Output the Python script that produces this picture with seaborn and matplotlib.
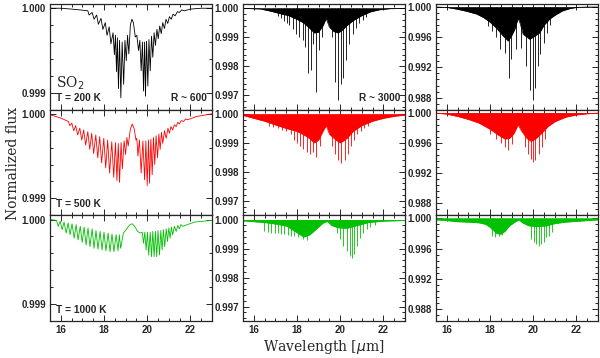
import matplotlib.pyplot as plt
import numpy as np
import seaborn as sns
from matplotlib.ticker import MultipleLocator, FormatStrFormatter

# ---- R ~ 600 column: sawtooth vertices (peak, dip, peak, dip ...)
wl_200k_r600 = [15.5, 16.0, 16.5, 16.9, 17.25, 17.31, 17.45, 17.54, 17.66, 17.74, 17.86, 17.95,
                18.06, 18.14, 18.24, 18.32, 18.42, 18.48, 18.53, 18.58, 18.62, 18.67, 18.72, 18.78,
                18.84, 18.91, 18.97, 19.03, 19.09, 19.15, 19.22, 19.29, 19.36, 19.45, 19.52, 19.60,
                19.66, 19.72, 19.78, 19.83, 19.88, 19.92, 19.97, 20.03, 20.08, 20.14, 20.20, 20.26,
                20.32, 20.38, 20.45, 20.51, 20.58, 20.65, 20.72, 20.80, 20.87, 20.95, 21.03, 21.11,
                21.20, 21.29, 21.40, 21.49, 21.60, 21.72, 22.0, 22.5, 23.0]
flux_200k_r600 = [1.00000, 1.00000, 0.99999, 0.99998, 0.99997, 0.99992, 0.99995, 0.99987, 0.99992,
                  0.99981, 0.99988, 0.99975, 0.99983, 0.99968, 0.99978, 0.99958, 0.99971, 0.99945,
                  0.99968, 0.99925, 0.99965, 0.99905, 0.99962, 0.99894, 0.99960, 0.99910, 0.99962,
                  0.99938, 0.99968, 0.99946, 0.99980, 0.99987, 0.99983, 0.99966, 0.99968, 0.99950,
                  0.99962, 0.99926, 0.99960, 0.99902, 0.99960, 0.99896, 0.99961, 0.99908, 0.99963,
                  0.99926, 0.99967, 0.99942, 0.99971, 0.99956, 0.99975, 0.99964, 0.99979, 0.99970,
                  0.99983, 0.99976, 0.99987, 0.99982, 0.99990, 0.99987, 0.99993, 0.99991, 0.99996,
                  0.99995, 0.99998, 0.99997, 0.99999, 1.00000, 1.00000]

wl_500k_r600 = [15.5, 16.0, 16.35, 16.42, 16.51, 16.60, 16.69, 16.78, 16.88, 16.97, 17.06, 17.15,
                17.25, 17.34, 17.43, 17.52, 17.62, 17.71, 17.80, 17.89, 17.99, 18.08, 18.17, 18.26,
                18.36, 18.45, 18.53, 18.60, 18.66, 18.72, 18.79, 18.85, 18.93, 19.00, 19.06, 19.12,
                19.22, 19.31, 19.40, 19.48, 19.52, 19.57, 19.64, 19.72, 19.80, 19.88, 19.94, 20.00,
                20.06, 20.11, 20.17, 20.23, 20.29, 20.35, 20.41, 20.48, 20.54, 20.60, 20.66, 20.72,
                20.80, 20.88, 20.96, 21.03, 21.10, 21.18, 21.26, 21.34, 21.42, 21.49, 21.58, 21.68,
                21.78, 21.88, 22.3, 23.0]
flux_500k_r600 = [0.99999, 0.99995, 0.99991, 0.99986, 0.99989, 0.99980, 0.99986, 0.99975, 0.99983,
                  0.99969, 0.99981, 0.99963, 0.99979, 0.99958, 0.99977, 0.99953, 0.99975, 0.99948,
                  0.99973, 0.99942, 0.99971, 0.99936, 0.99969, 0.99930, 0.99967, 0.99925, 0.99966,
                  0.99921, 0.99965, 0.99919, 0.99966, 0.99935, 0.99968, 0.99952, 0.99972, 0.99962,
                  0.99982, 0.99988, 0.99982, 0.99969, 0.99971, 0.99950, 0.99969, 0.99930, 0.99968,
                  0.99922, 0.99968, 0.99915, 0.99969, 0.99918, 0.99970, 0.99928, 0.99972, 0.99940,
                  0.99974, 0.99948, 0.99976, 0.99958, 0.99978, 0.99965, 0.99980, 0.99971, 0.99983,
                  0.99977, 0.99985, 0.99981, 0.99987, 0.99985, 0.99990, 0.99988, 0.99992, 0.99991,
                  0.99994, 0.99993, 0.99997, 1.00000]

wl_1000k_r600 = [15.5, 15.80, 15.88, 15.97, 16.06, 16.15, 16.25, 16.34, 16.43, 16.52, 16.62, 16.71,
                 16.80, 16.90, 16.99, 17.08, 17.17, 17.26, 17.35, 17.45, 17.54, 17.63, 17.72, 17.82,
                 17.91, 18.00, 18.09, 18.19, 18.28, 18.37, 18.46, 18.56, 18.65, 18.71, 18.77, 18.90,
                 19.05, 19.20, 19.31, 19.42, 19.55, 19.68, 19.77, 19.83, 19.89, 19.95, 20.01, 20.07,
                 20.14, 20.20, 20.26, 20.32, 20.38, 20.44, 20.50, 20.57, 20.63, 20.69, 20.75, 20.81,
                 20.88, 20.94, 21.00, 21.06, 21.12, 21.18, 21.26, 21.34, 21.42, 21.49, 21.56, 21.64,
                 22.2, 23.0]
flux_1000k_r600 = [1.00000, 0.99999, 0.99992, 0.99998, 0.99988, 0.99997, 0.99984, 0.99996, 0.99982,
                   0.99995, 0.99978, 0.99994, 0.99976, 0.99992, 0.99973, 0.99991, 0.99970, 0.99990,
                   0.99968, 0.99989, 0.99966, 0.99987, 0.99965, 0.99986, 0.99964, 0.99985, 0.99963,
                   0.99984, 0.99962, 0.99983, 0.99962, 0.99982, 0.99963, 0.99982, 0.99966, 0.99984,
                   0.99989, 0.99994, 0.99995, 0.99992, 0.99986, 0.99984, 0.99985, 0.99972, 0.99985,
                   0.99964, 0.99985, 0.99958, 0.99985, 0.99956, 0.99986, 0.99956, 0.99986, 0.99956,
                   0.99987, 0.99958, 0.99987, 0.99964, 0.99988, 0.99968, 0.99989, 0.99974, 0.99990,
                   0.99978, 0.99991, 0.99982, 0.99992, 0.99986, 0.99993, 0.99989, 0.99994, 0.99992,
                   0.99997, 0.99999]

# ---- R ~ 3000 / R ~ 30000: lower edge of the dense line forest, plus the deep single lines
band_wl_200k_r3000 = [15.5, 16.3, 16.8, 17.2, 17.6, 18.0, 18.3, 18.6, 18.8, 19.0, 19.2, 19.35, 19.5,
                      19.7, 19.9, 20.1, 20.3, 20.6, 21.0, 21.4, 21.8, 22.3, 23.0]
band_flux_200k_r3000 = [1.0, 0.99998, 0.99990, 0.99982, 0.99975, 0.99962, 0.99950, 0.99930, 0.99915,
                        0.99918, 0.99940, 0.99965, 0.99935, 0.99920, 0.99915, 0.99925, 0.99940,
                        0.99958, 0.99975, 0.99988, 0.99995, 0.99999, 1.0]
line_wl_200k_r3000 = [17.10, 17.25, 17.40, 17.52, 17.64, 17.83, 17.95, 18.11, 18.26, 18.37, 18.49,
                      18.63, 18.75, 18.88, 19.03, 19.15, 19.61, 19.76, 19.90, 20.02, 20.14, 20.27,
                      20.42, 20.58, 20.73, 20.89, 21.05, 21.20]
line_flux_200k_r3000 = [0.99975, 0.99965, 0.99955, 0.99948, 0.99941, 0.99930, 0.99913, 0.99901,
                        0.99890, 0.99867, 0.99775, 0.99786, 0.99878, 0.99711, 0.99855, 0.99900,
                        0.99900, 0.99745, 0.99683, 0.99740, 0.99760, 0.99821, 0.99878, 0.99910,
                        0.99931, 0.99948, 0.99960, 0.99970]

band_wl_500k_r3000 = [15.5, 16.0, 16.5, 17.0, 17.5, 18.0, 18.5, 18.8, 19.0, 19.2, 19.35, 19.5, 19.8,
                      20.0, 20.3, 20.6, 21.0, 21.5, 22.0, 22.5, 23.0]
band_flux_500k_r3000 = [0.99995, 0.99985, 0.99975, 0.99962, 0.99950, 0.99940, 0.99920, 0.99900,
                        0.99910, 0.99940, 0.99960, 0.99930, 0.99910, 0.99900, 0.99915, 0.99940,
                        0.99960, 0.99975, 0.99985, 0.99992, 0.99996]
line_wl_500k_r3000 = [16.7, 16.9, 17.1, 17.3, 17.5, 17.7, 17.85, 18.0, 18.15, 18.3, 18.45, 18.6,
                      18.75, 18.9, 19.05, 19.6, 19.75, 19.9, 20.05, 20.2, 20.35, 20.5, 20.65, 20.8,
                      20.95, 21.1, 21.3]
line_flux_500k_r3000 = [0.9996, 0.99955, 0.9995, 0.99945, 0.9994, 0.9993, 0.9991, 0.9990, 0.9989,
                        0.9988, 0.9987, 0.9986, 0.9987, 0.9985, 0.9989, 0.9989, 0.9986, 0.9984,
                        0.9983, 0.9984, 0.9986, 0.9989, 0.9991, 0.9993, 0.9994, 0.9995, 0.9996]

band_wl_1000k_r3000 = [15.5, 16.0, 16.5, 17.0, 17.5, 18.0, 18.3, 18.6, 18.9, 19.2, 19.4, 19.6, 19.9,
                       20.3, 20.8, 21.3, 22.0, 23.0]
band_flux_1000k_r3000 = [0.99996, 0.99993, 0.99990, 0.99985, 0.99978, 0.99955, 0.99940, 0.99948,
                         0.99968, 0.99988, 0.99994, 0.99980, 0.99972, 0.99970, 0.99980, 0.99990,
                         0.99995, 0.99997]
line_wl_1000k_r3000 = [16.49, 16.65, 16.80, 16.96, 17.11, 17.26, 17.42, 17.57, 17.73, 17.88, 18.03,
                       18.26, 18.45, 19.84, 19.99, 20.14, 20.30, 20.45, 20.53, 20.64, 20.76, 20.92,
                       21.07, 21.23, 21.40, 21.60]
line_flux_1000k_r3000 = [0.99960, 0.99958, 0.99955, 0.99954, 0.99954, 0.99950, 0.99950, 0.99947,
                         0.99943, 0.99943, 0.99940, 0.99933, 0.99930, 0.99955, 0.99932, 0.99910,
                         0.99893, 0.99876, 0.99868, 0.99880, 0.99910, 0.99937, 0.99954, 0.99966,
                         0.99975, 0.99980]

band_wl_200k_r30000 = [15.5, 16.0, 16.45, 16.9, 17.38, 17.7, 18.0, 18.3, 18.6, 18.84, 19.0, 19.15,
                       19.3, 19.4, 19.53, 19.84, 20.1, 20.3, 20.5, 20.76, 21.0, 21.36, 21.7, 22.0,
                       22.5, 23.0]
band_flux_200k_r30000 = [1.0, 0.99995, 0.99973, 0.99945, 0.99907, 0.99860, 0.99800, 0.99720,
                         0.99618, 0.99550, 0.99620, 0.99707, 0.99850, 0.99780, 0.99640, 0.99573,
                         0.99620, 0.99660, 0.99760, 0.99840, 0.99890, 0.99950, 0.99980, 0.99995,
                         1.0, 1.0]
line_wl_200k_r30000 = [17.9, 18.1, 18.3, 18.45, 18.68, 18.87, 18.99, 19.22, 19.45, 19.68, 19.87,
                       19.99, 20.1, 20.22, 20.33, 20.48, 20.65, 20.8]
line_flux_200k_r30000 = [0.9975, 0.9968, 0.9960, 0.99440, 0.99396, 0.99062, 0.99307, 0.99440,
                         0.99462, 0.99218, 0.98907, 0.98773, 0.98929, 0.99218, 0.99373, 0.99529,
                         0.9966, 0.9976]

band_wl_500k_r30000 = [15.5, 16.0, 16.5, 17.0, 17.5, 18.0, 18.4, 18.7, 18.9, 19.1, 19.3, 19.45, 19.7,
                       19.9, 20.1, 20.4, 20.7, 21.0, 21.5, 22.0, 22.5, 23.0]
band_flux_500k_r30000 = [0.99995, 0.9998, 0.9995, 0.9991, 0.9986, 0.9978, 0.9970, 0.9965, 0.9966,
                         0.9972, 0.9984, 0.9976, 0.9966, 0.9962, 0.9965, 0.9973, 0.9982, 0.9988,
                         0.9994, 0.9997, 0.99985, 0.99995]
line_wl_500k_r30000 = [18.0, 18.3, 18.5, 18.7, 18.85, 19.0, 19.6, 19.75, 19.9, 20.0, 20.1, 20.25,
                       20.4, 20.55]
line_flux_500k_r30000 = [0.9972, 0.9965, 0.9960, 0.9955, 0.9950, 0.9958, 0.9955, 0.9945, 0.9938,
                         0.9935, 0.9937, 0.9945, 0.9955, 0.9965]

band_wl_1000k_r30000 = [15.5, 16.0, 16.5, 17.0, 17.5, 17.8, 18.0, 18.3, 18.5, 18.7, 18.9, 19.2,
                        19.35, 19.5, 19.8, 20.2, 20.6, 21.0, 21.5, 22.0, 22.5, 23.0]
band_flux_1000k_r30000 = [0.9998, 0.9997, 0.99955, 0.9995, 0.9994, 0.9992, 0.9988, 0.9980, 0.9979,
                          0.9983, 0.9990, 0.9996, 0.9998, 0.9994, 0.9990, 0.9989, 0.9990, 0.9993,
                          0.9995, 0.9996, 0.9997, 0.9998]
line_wl_1000k_r30000 = [18.1, 18.25, 18.4, 18.55, 19.92, 20.02, 20.15, 20.27, 20.38, 20.48, 20.61,
                        20.73, 20.85]
line_flux_1000k_r30000 = [0.9977, 0.9975, 0.9976, 0.9978, 0.99724, 0.9968, 0.99657, 0.99635,
                          0.99657, 0.9968, 0.99747, 0.99769, 0.99813]

temps = ["T = 200 K", "T = 500 K", "T = 1000 K"]
row_colors = ["black", "red", "#00c000"]

sns.set_style("ticks")
plt.rcParams["font.family"] = ["Liberation Sans", "DejaVu Sans"]

fig = plt.figure(figsize=(6, 3.58), dpi=100)
col_left = [50 / 600, 243 / 600, 436 / 600]
row_bottom = [0.6936, 0.3986, 0.1034]
ax_w, ax_h = 162 / 600, 0.2952

ylims = [(0.9988, 1.00005), (0.99650, 1.00015), (0.9864, 1.0004)]
ymajor = [0.001, 0.001, 0.004]
yminor = [0.0002, 0.0002, 0.0008]

saw = [(wl_200k_r600, flux_200k_r600), (wl_500k_r600, flux_500k_r600),
       (wl_1000k_r600, flux_1000k_r600)]
forest = [
    [(band_wl_200k_r3000, band_flux_200k_r3000, line_wl_200k_r3000, line_flux_200k_r3000),
     (band_wl_200k_r30000, band_flux_200k_r30000, line_wl_200k_r30000, line_flux_200k_r30000)],
    [(band_wl_500k_r3000, band_flux_500k_r3000, line_wl_500k_r3000, line_flux_500k_r3000),
     (band_wl_500k_r30000, band_flux_500k_r30000, line_wl_500k_r30000, line_flux_500k_r30000)],
    [(band_wl_1000k_r3000, band_flux_1000k_r3000, line_wl_1000k_r3000, line_flux_1000k_r3000),
     (band_wl_1000k_r30000, band_flux_1000k_r30000, line_wl_1000k_r30000, line_flux_1000k_r30000)],
]

for r in range(3):
    c = row_colors[r]
    for k in range(3):
        ax = fig.add_axes([col_left[k], row_bottom[r], ax_w, ax_h])
        if k == 0:
            wl, fl = saw[r]
            sns.lineplot(x=wl, y=fl, ax=ax, color=c, lw=0.6, sort=False, estimator=None)
        else:
            bwl, bfl, lwl, lfl = forest[r][k - 1]
            ax.fill_between(bwl, bfl, 1.0, color=c, lw=0)
            sns.lineplot(x=bwl, y=bfl, ax=ax, color=c, lw=0.5, estimator=None)
            ax.vlines(lwl, lfl, 1.0, color=c, lw=0.6)
            ax.axhline(1.0, color=c, lw=0.5, zorder=1)

        ax.set_xlim(15.5, 23.0)
        ax.set_ylim(*ylims[k])
        ax.xaxis.set_major_locator(MultipleLocator(2))
        ax.xaxis.set_minor_locator(MultipleLocator(0.5))
        ax.yaxis.set_major_locator(MultipleLocator(ymajor[k]))
        ax.yaxis.set_minor_locator(MultipleLocator(yminor[k]))
        ax.yaxis.set_major_formatter(FormatStrFormatter("%.3f"))
        ax.tick_params(which="both", direction="in", top=True, right=True,
                       width=0.7, labelsize=7, pad=3)
        ax.tick_params(which="major", length=4)
        ax.tick_params(which="minor", length=2)
        for lab in ax.get_xticklabels() + ax.get_yticklabels():
            lab.set_fontweight("bold")
        if r < 2:
            ax.set_xticklabels([])
        for sp in ax.spines.values():
            sp.set_linewidth(0.9)
        ax.set_xlabel("")
        ax.set_ylabel("")

        if k == 0:
            ax.text(0.035, 0.06, temps[r], transform=ax.transAxes, fontsize=7.3,
                    fontweight="bold", ha="left", va="bottom")
        if r == 0 and k == 0:
            ax.text(0.04, 0.17, "SO$_2$", transform=ax.transAxes, fontsize=10,
                    family="DejaVu Serif", ha="left", va="bottom")
            ax.text(0.97, 0.06, "R ~ 600", transform=ax.transAxes, fontsize=7.3,
                    fontweight="bold", ha="right", va="bottom")
        if r == 0 and k == 1:
            ax.text(0.97, 0.06, "R ~ 3000", transform=ax.transAxes, fontsize=7.3,
                    fontweight="bold", ha="right", va="bottom")

fig.text(0.022, 0.543, "Normalized flux", rotation=90, ha="center", va="center",
         fontsize=10, family="DejaVu Serif")
fig.text(0.54, 0.03, "Wavelength [$\\mu$m]", ha="center", va="center",
         fontsize=10, family="DejaVu Serif")

fig.savefig("out.png", dpi=100)
